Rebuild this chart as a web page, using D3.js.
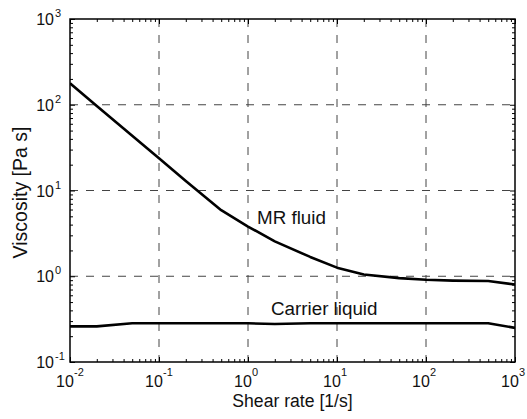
<!DOCTYPE html>
<html>
<head>
<meta charset="utf-8">
<script src="https://cdn.jsdelivr.net/npm/d3@7"></script>
<style>
  body { margin: 0; background: #fff; }
  svg { display: block; font-family: "Liberation Sans", Arial, sans-serif; }
</style>
</head>
<body>
<div id="chart"></div>
<script>
// values
const shearRate = [0.01, 0.02, 0.05, 0.1, 0.2, 0.5, 1, 2, 5, 10, 20, 50, 100, 200, 500, 1000];
const mrFluid = [178, 97, 43.5, 23.7, 12.9, 5.9, 3.8, 2.55, 1.68, 1.26, 1.05, 0.95, 0.91, 0.89, 0.88, 0.80];
const carrierLiquid = [0.26, 0.26, 0.283, 0.283, 0.283, 0.283, 0.283, 0.277, 0.283, 0.283, 0.283, 0.283, 0.283, 0.283, 0.283, 0.25];
const xExponents = [-2, -1, 0, 1, 2, 3];
const yExponents = [-1, 0, 1, 2, 3];
const seriesLabels = ["MR fluid", "Carrier liquid"];

const width = 527, height = 419;
const pL = 70, pR = 515, pT = 19, pB = 362;

const svg = d3.select("#chart").append("svg")
  .attr("width", width)
  .attr("height", height);

const x = d3.scaleLog().domain([1e-2, 1e3]).range([pL, pR]);
const y = d3.scaleLog().domain([1e-1, 1e3]).range([pB, pT]);

const xMajor = xExponents.map(e => Math.pow(10, e));
const yMajor = yExponents.map(e => Math.pow(10, e));
// minor ticks 2..9 in every decade
function minorOf(major) {
  const out = [];
  for (let i = 0; i < major.length - 1; i++)
    for (let k = 2; k <= 9; k++) out.push(major[i] * k);
  return out;
}

// grid
const grid = svg.append("g")
  .attr("stroke", "#444")
  .attr("stroke-width", 1)
  .attr("stroke-dasharray", "8,8");
grid.selectAll(".gx").data(xMajor.slice(1, -1)).enter().append("line")
  .attr("x1", d => x(d)).attr("x2", d => x(d))
  .attr("y1", pT).attr("y2", pB);
grid.selectAll(".gy").data(yMajor.slice(1, -1)).enter().append("line")
  .attr("x1", pL).attr("x2", pR)
  .attr("y1", d => y(d)).attr("y2", d => y(d));

// ticks, all pointing inwards
function tickAxis(axis, tr, values, size) {
  const g = svg.append("g").attr("transform", tr)
    .call(axis.tickValues(values).tickSize(-size).tickFormat(""));
  g.select(".domain").remove();
  g.selectAll("line").attr("stroke", "#000");
}
[[xMajor, 5], [minorOf(xMajor), 3]].forEach(([v, s]) => {
  tickAxis(d3.axisBottom(x), `translate(0,${pB})`, v, s);
  tickAxis(d3.axisTop(x), `translate(0,${pT})`, v, s);
});
[[yMajor, 5], [minorOf(yMajor), 3]].forEach(([v, s]) => {
  tickAxis(d3.axisLeft(y), `translate(${pL},0)`, v, s);
  tickAxis(d3.axisRight(y), `translate(${pR},0)`, v, s);
});

// curves
svg.append("clipPath").attr("id", "clip")
  .append("rect").attr("x", pL).attr("y", pT)
  .attr("width", pR - pL).attr("height", pB - pT);

const line = d3.line()
  .x(d => x(d[0]))
  .y(d => y(d[1]));

[mrFluid, carrierLiquid].forEach(vals => {
  svg.append("path")
    .datum(shearRate.map((s, i) => [s, vals[i]]))
    .attr("clip-path", "url(#clip)")
    .attr("fill", "none")
    .attr("stroke", "#000")
    .attr("stroke-width", 2.6)
    .attr("stroke-linejoin", "round")
    .attr("d", line);
});

// frame
svg.append("rect")
  .attr("x", pL).attr("y", pT)
  .attr("width", pR - pL).attr("height", pB - pT)
  .attr("fill", "none").attr("stroke", "#000").attr("stroke-width", 1.5);

// tick labels
const xl = svg.append("g").attr("fill", "#111");
xExponents.forEach(e => {
  const px = x(Math.pow(10, e));
  xl.append("text").attr("x", px - 5).attr("y", pB + 25)
    .attr("text-anchor", "middle").attr("font-size", 16).text("10");
  xl.append("text").attr("x", px + 4).attr("y", pB + 14)
    .attr("font-size", 11).text(e);
});
const yl = svg.append("g").attr("fill", "#111");
yExponents.forEach(e => {
  const py = y(Math.pow(10, e));
  yl.append("text").attr("x", 54).attr("y", py + 6)
    .attr("text-anchor", "end").attr("font-size", 16).text("10");
  yl.append("text").attr("x", 55).attr("y", py - 2)
    .attr("font-size", 11).text(e);
});

// axis titles
svg.append("text")
  .attr("x", (pL + pR) / 2).attr("y", 407)
  .attr("text-anchor", "middle").attr("font-size", 17.6).attr("fill", "#111")
  .text("Shear rate [1/s]");
svg.append("text")
  .attr("transform", `translate(27,${(pT + pB) / 2 + 2})rotate(-90)`)
  .attr("text-anchor", "middle").attr("font-size", 19.5).attr("fill", "#111")
  .text("Viscosity [Pa s]");

// series labels
svg.append("text").attr("x", 257).attr("y", 224)
  .attr("font-size", 18.8).attr("fill", "#111").text(seriesLabels[0]);
svg.append("text").attr("x", 271).attr("y", 315)
  .attr("font-size", 18.8).attr("fill", "#111").text(seriesLabels[1]);
</script>
</body>
</html>
